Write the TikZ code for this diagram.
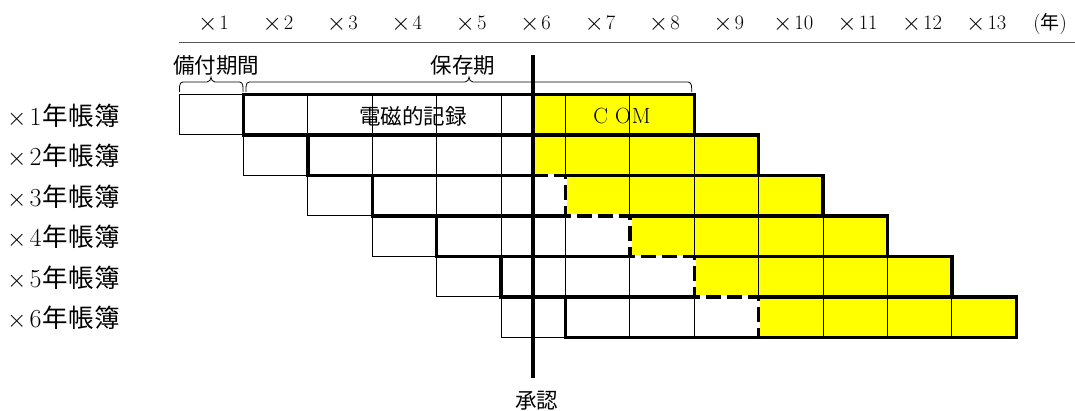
\documentclass[tikz,border=0pt]{standalone}
\usepackage{fontspec}
\usepackage{graphicx}
\newfontfamily\cjk{Noto Sans CJK JP}
\newcommand{\bigx}{\raisebox{-0.05em}{\scalebox{1.2}{$\times$}}}
\begin{document}
\begin{tikzpicture}[x=1pt,y=-1pt,
  declare function={X(\k)=179+64.4*(\k-1); Y(\i)=94.3+40.5*(\i-1);},
  gridline/.style={draw=black,line width=0.9pt},
  thickline/.style={draw=black,line width=3.4pt,line cap=rect},
  dashline/.style={draw=black,line width=3.4pt,dash pattern=on 15pt off 6pt},
  apprline/.style={draw=black,line width=4.6pt},
  bracketline/.style={draw=black,line width=0.8pt},
  yfill/.style={fill={rgb,255:red,255;green,255;blue,0}},
  toplabel/.style={inner sep=0pt,font=\fontsize{20.5}{21}\selectfont},
  cjklabel/.style={inner sep=0pt,font=\fontsize{21.5}{22}\selectfont\cjk},
  rowlabel/.style={inner sep=0pt,anchor=west,font=\fontsize{26}{26}\selectfont}]
\useasboundingbox (0,0) rectangle (1075,410);

% header
\foreach \k in {1,...,13}
  \node[toplabel] (yr\k) at ({X(\k)+34.5},24) {\bigx\kern2pt\k};
\node[toplabel] (nen) at (1050,24) {({\cjk\fontsize{19}{19}\selectfont 年})};
\coordinate (hl) at (179,42.5);
\coordinate (hr) at (1075,42.5);
\draw[draw=black!65,line width=1.1pt] (hl) -- (hr);

% yellow areas
\fill[yfill] (533,{Y(1)}) rectangle ({X(9)},{Y(2)});
\fill[yfill] (533,{Y(2)}) rectangle ({X(10)},{Y(3)});
\foreach \i in {3,...,6}
  \fill[yfill] ({X(\i+4)},{Y(\i)}) rectangle ({X(\i+8)},{Y(\i+1)});

% thin grid
\foreach \i in {1,...,6} {
  \draw[gridline] ({X(\i)},{Y(\i)}) rectangle ({X(\i+8)},{Y(\i+1)});
  \foreach \k in {1,...,7}
    \draw[gridline] ({X(\i+\k)},{Y(\i)}) -- ({X(\i+\k)},{Y(\i+1)});
}

% thick outlines
\draw[thickline] ({X(2)},{Y(1)}) -- ({X(9)},{Y(1)});
\draw[thickline] ({X(2)},{Y(2)}) -- ({X(10)},{Y(2)});
\draw[thickline] ({X(3)},{Y(3)}) -- (533,{Y(3)});
\draw[thickline] ({X(7)},{Y(3)}) -- ({X(11)},{Y(3)});
\foreach \j in {4,5,6} {
  \draw[thickline] ({X(\j)},{Y(\j)}) -- ({X(\j+3)},{Y(\j)});
  \draw[thickline] ({X(\j+4)},{Y(\j)}) -- ({X(\j+8)},{Y(\j)});
}
\draw[thickline] ({X(7)},{Y(7)}) -- ({X(14)},{Y(7)});
\foreach \i in {1,...,6} {
  \draw[thickline] ({X(\i+1)},{Y(\i)}) -- ({X(\i+1)},{Y(\i+1)});
  \draw[thickline] ({X(\i+8)},{Y(\i)}) -- ({X(\i+8)},{Y(\i+1)});
}

% dashed staircase
\draw[draw=white,line width=3.4pt] (533,{Y(3)}) -- ({X(7)},{Y(3)}) -- ({X(7)},{Y(4)}) -- ({X(8)},{Y(4)}) -- ({X(8)},{Y(5)}) -- ({X(9)},{Y(5)}) -- ({X(9)},{Y(6)}) -- ({X(10)},{Y(6)}) -- ({X(10)},{Y(7)});
\draw[dashline] (533,{Y(3)}) -- ({X(7)},{Y(3)}) -- ({X(7)},{Y(4)}) -- ({X(8)},{Y(4)}) -- ({X(8)},{Y(5)}) -- ({X(9)},{Y(5)}) -- ({X(9)},{Y(6)}) -- ({X(10)},{Y(6)}) -- ({X(10)},{Y(7)});

% brackets
\draw[bracketline] (179.5,92) to[out=90,in=180] (183,82) -- (207,82) to[out=0,in=-90] (211,77) to[out=-90,in=180] (215,82) -- (239.5,82) to[out=0,in=90] (243,92);
\draw[bracketline] (246,92) to[out=90,in=180] (249.5,82) -- (465,82) to[out=0,in=-90] (469,77) to[out=-90,in=180] (473,82) -- (688,82) to[out=0,in=90] (691.7,92);
\node[cjklabel] (bisoku) at (216,65) {備付期間};
\node[cjklabel] (hozon) at (463,65) {保存期};

% cell texts
\node[cjklabel] (denji) at (413,116) {電磁的記録};
\node[toplabel,font=\fontsize{22}{22}\selectfont] (com) at (622,116) {C\kern7pt O\kern1pt M};

% row labels
\foreach \i in {1,...,6}
  \node[rowlabel] (row\i) at (7,{Y(\i)+21}) {$\times$\kern3pt\i{\cjk\fontsize{25.5}{26}\selectfont\kern1pt 年\kern0.5pt 帳\kern0.5pt 簿}};

% approval line
\node[cjklabel] (shonin) at (536.5,401) {承認};
\coordinate (apptop) at (533,55);
\coordinate (appbot) at (533,378);
\draw[apprline] (apptop) -- (appbot);
\end{tikzpicture}
\end{document}
